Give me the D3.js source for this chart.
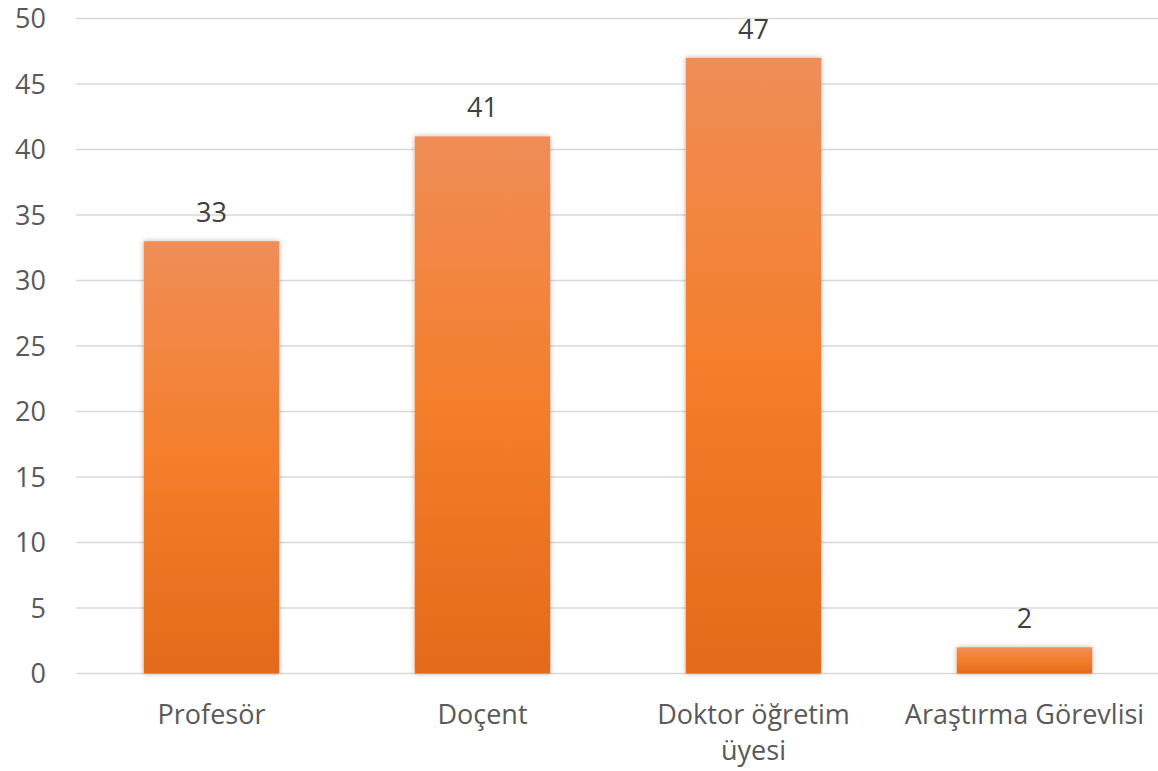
<!DOCTYPE html>
<html>
<head>
<meta charset="utf-8">
<script src="https://cdn.jsdelivr.net/npm/d3@7"></script>
<style>
  body { margin: 0; background: #fff; }
  text { font-family: "Open Sans", sans-serif; }
</style>
</head>
<body>
<script>
var categories = ["Profesör", "Doçent", "Doktor öğretim üyesi", "Araştırma Görevlisi"];
var values = [33, 41, 47, 2];
var yTicks = [0, 5, 10, 15, 20, 25, 30, 35, 40, 45, 50];

var width = 1158,
  height = 771;

var margin = { left: 76, right: -2, top: 18.5, bottom: 97.5 };

var svg = d3.select("body").append("svg")
  .attr("width", width)
  .attr("height", height);

var defs = svg.append("defs");

var grad = defs.append("linearGradient")
  .attr("id", "barGrad")
  .attr("x1", 0).attr("y1", 0)
  .attr("x2", 0).attr("y2", 1);
grad.append("stop").attr("offset", "0%").attr("stop-color", "#f08d57");
grad.append("stop").attr("offset", "50%").attr("stop-color", "#f47e2b");
grad.append("stop").attr("offset", "100%").attr("stop-color", "#e46a1a");

var shadow = defs.append("filter")
  .attr("id", "shadow")
  .attr("x", "-20%").attr("y", "-20%")
  .attr("width", "140%").attr("height", "140%");
shadow.append("feDropShadow")
  .attr("dx", 0).attr("dy", 0)
  .attr("stdDeviation", 2.5)
  .attr("flood-color", "#000")
  .attr("flood-opacity", 0.3);

var x = d3.scaleBand()
  .domain(categories)
  .range([margin.left, width - margin.right])
  .paddingInner(0.5)
  .paddingOuter(0.25);

var y = d3.scaleLinear()
  .domain([0, 50])
  .range([height - margin.bottom, margin.top]);

// gridlines
svg.append("g")
  .selectAll("line")
  .data(yTicks)
  .enter().append("line")
  .attr("x1", margin.left)
  .attr("x2", width)
  .attr("y1", function(d) { return y(d); })
  .attr("y2", function(d) { return y(d); })
  .style("stroke", "#d9d9d9")
  .style("stroke-width", "1.5px");

// y labels
svg.append("g")
  .selectAll("text")
  .data(yTicks)
  .enter().append("text")
  .attr("x", 46)
  .attr("y", function(d) { return y(d); })
  .attr("dy", "0.36em")
  .style("text-anchor", "end")
  .style("font-size", "27px")
  .style("fill", "#595959")
  .text(function(d) { return d; });

// bars
svg.append("g")
  .selectAll("rect")
  .data(values)
  .enter().append("rect")
  .attr("x", function(d, i) { return x(categories[i]); })
  .attr("width", x.bandwidth())
  .attr("y", function(d) { return y(d); })
  .attr("height", function(d) { return y(0) - y(d); })
  .style("fill", "url(#barGrad)")
  .attr("filter", "url(#shadow)");

// value labels
svg.append("g")
  .selectAll("text")
  .data(values)
  .enter().append("text")
  .attr("x", function(d, i) { return x(categories[i]) + x.bandwidth() / 2; })
  .attr("y", function(d) { return y(d) - 19; })
  .style("text-anchor", "middle")
  .style("font-size", "27px")
  .style("fill", "#404040")
  .text(function(d) { return d; });

// category labels, wrapped
var maxW = 250;
var catLabels = svg.append("g")
  .selectAll("text")
  .data(categories)
  .enter().append("text")
  .attr("x", function(d) { return x(d) + x.bandwidth() / 2; })
  .attr("y", 724)
  .style("text-anchor", "middle")
  .style("font-size", "27px")
  .style("fill", "#595959");

catLabels.each(function(d) {
  var t = d3.select(this);
  var words = d.split(" ");
  var line = [];
  var tspan = t.append("tspan").attr("x", t.attr("x")).attr("dy", 0);
  words.forEach(function(w) {
    line.push(w);
    tspan.text(line.join(" "));
    if (tspan.node().getComputedTextLength() > maxW && line.length > 1) {
      line.pop();
      tspan.text(line.join(" "));
      line = [w];
      tspan = t.append("tspan").attr("x", t.attr("x")).attr("dy", 36).text(w);
    }
  });
});
</script>
</body>
</html>
